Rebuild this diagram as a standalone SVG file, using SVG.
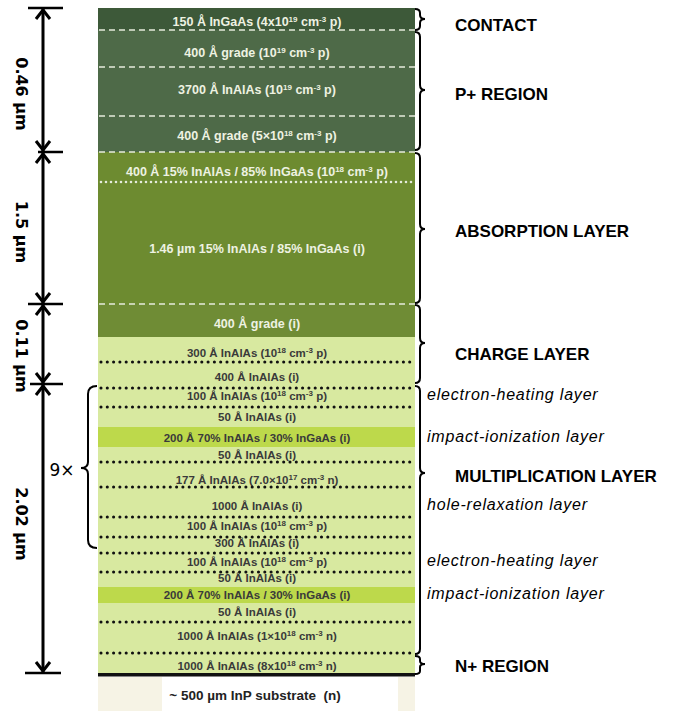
<svg xmlns="http://www.w3.org/2000/svg" width="678" height="711" viewBox="0 0 678 711">
<style>
.dk{font-family:'Liberation Sans',Arial,sans-serif;font-weight:bold;font-size:12.5px;fill:#eef2e2;text-anchor:middle}
.lt{font-family:'Liberation Sans',Arial,sans-serif;font-weight:bold;font-size:11.5px;fill:#3a3a3a;text-anchor:middle}
.sup{font-size:8px}
.wd{stroke:#e6ecdc;stroke-width:1.5;stroke-dasharray:6 4;fill:none}
.wdot{stroke:#e6ecdc;stroke-width:2.6;stroke-dasharray:0 5;stroke-linecap:round;fill:none}
.bdot{stroke:#111;stroke-width:3.1;stroke-dasharray:0 6.3;stroke-linecap:round;fill:none}
.br{stroke:#000;stroke-width:2;fill:none}
.dim{stroke:#000;stroke-width:3;fill:none}
.tick{stroke:#000;stroke-width:2.5;fill:none}
.ah{stroke:#000;stroke-width:3;fill:none;stroke-linejoin:miter}
.dl{font-family:'DejaVu Sans',Verdana,sans-serif;font-weight:bold;font-size:16px;fill:#000;text-anchor:middle;dominant-baseline:central}
.rl{font-family:'Liberation Sans',Arial,sans-serif;font-weight:bold;font-size:17px;fill:#000}
.il{font-family:'Liberation Sans',Arial,sans-serif;font-style:italic;font-size:16px;letter-spacing:0.8px;fill:#000}
</style>
<rect width="678" height="711" fill="#fff"/>

<g id="contact">
<rect x="98" y="8" width="317" height="22" fill="#3d5939"/>
<text class="dk" x="257" y="26">150 Å InGaAs (4x10<tspan class="sup" dy="-4.5">19</tspan><tspan dy="4.5"> cm</tspan><tspan class="sup" dy="-4.5">-3</tspan><tspan dy="4.5"> p)</tspan></text>
</g>

<g id="p-region">
<rect x="98" y="30" width="317" height="122" fill="#4e6a48"/>
<text class="dk" x="257" y="57">400 Å grade (10<tspan class="sup" dy="-4.5">19</tspan><tspan dy="4.5"> cm</tspan><tspan class="sup" dy="-4.5">-3</tspan><tspan dy="4.5"> p)</tspan></text>
<text class="dk" x="257" y="94">3700 Å InAlAs (10<tspan class="sup" dy="-4.5">19</tspan><tspan dy="4.5"> cm</tspan><tspan class="sup" dy="-4.5">-3</tspan><tspan dy="4.5"> p)</tspan></text>
<text class="dk" x="257" y="140">400 Å grade (5×10<tspan class="sup" dy="-4.5">18</tspan><tspan dy="4.5"> cm</tspan><tspan class="sup" dy="-4.5">-3</tspan><tspan dy="4.5"> p)</tspan></text>
</g>

<g id="absorption">
<rect x="98" y="152" width="317" height="152" fill="#6d8b30"/>
<text class="dk" x="257" y="176">400 Å 15% InAlAs / 85% InGaAs (10<tspan class="sup" dy="-4.5">18</tspan><tspan dy="4.5"> cm</tspan><tspan class="sup" dy="-4.5">-3</tspan><tspan dy="4.5"> p)</tspan></text>
<text class="dk" x="257" y="253">1.46 µm 15% InAlAs / 85% InGaAs (i)</text>
</g>

<g id="charge">
<rect x="98" y="304" width="317" height="33" fill="#6f8c35"/>
<rect x="98" y="337" width="317" height="337" fill="#d8e9a0"/>
<text class="dk" x="257" y="328">400 Å grade (i)</text>
<text class="lt" x="257" y="357">300 Å InAlAs (10<tspan class="sup" dy="-4">18</tspan><tspan dy="4"> cm</tspan><tspan class="sup" dy="-4">-3</tspan><tspan dy="4"> p)</tspan></text>
<text class="lt" x="257" y="381">400 Å InAlAs (i)</text>
</g>

<g id="multiplication">
<rect x="98" y="427" width="317" height="20" fill="#bdd94b"/>
<rect x="98" y="587" width="317" height="16" fill="#bdd94b"/>
<text class="lt" x="257" y="400">100 Å InAlAs (10<tspan class="sup" dy="-4">18</tspan><tspan dy="4"> cm</tspan><tspan class="sup" dy="-4">-3</tspan><tspan dy="4"> p)</tspan></text>
<text class="lt" x="257" y="421">50 Å InAlAs (i)</text>
<text class="lt" x="257" y="442">200 Å 70% InAlAs / 30% InGaAs (i)</text>
<text class="lt" x="257" y="459">50 Å InAlAs (i)</text>
<text class="lt" x="257" y="484">177 Å InAlAs (7.0×10<tspan class="sup" dy="-4">17</tspan><tspan dy="4"> cm</tspan><tspan class="sup" dy="-4">-3</tspan><tspan dy="4"> n)</tspan></text>
<text class="lt" x="257" y="510">1000 Å InAlAs (i)</text>
<text class="lt" x="257" y="530">100 Å InAlAs (10<tspan class="sup" dy="-4">18</tspan><tspan dy="4"> cm</tspan><tspan class="sup" dy="-4">-3</tspan><tspan dy="4"> p)</tspan></text>
<text class="lt" x="257" y="547">300 Å InAlAs (i)</text>
<text class="lt" x="257" y="566">100 Å InAlAs (10<tspan class="sup" dy="-4">18</tspan><tspan dy="4"> cm</tspan><tspan class="sup" dy="-4">-3</tspan><tspan dy="4"> p)</tspan></text>
<text class="lt" x="257" y="582">50 Å InAlAs (i)</text>
<text class="lt" x="257" y="599">200 Å 70% InAlAs / 30% InGaAs (i)</text>
<text class="lt" x="257" y="616">50 Å InAlAs (i)</text>
<text class="lt" x="257" y="640">1000 Å InAlAs (1×10<tspan class="sup" dy="-4">18</tspan><tspan dy="4"> cm</tspan><tspan class="sup" dy="-4">-3</tspan><tspan dy="4"> n)</tspan></text>
</g>

<g id="n-region">
<text class="lt" x="257" y="670">1000 Å InAlAs (8x10<tspan class="sup" dy="-4">18</tspan><tspan dy="4"> cm</tspan><tspan class="sup" dy="-4">-3</tspan><tspan dy="4"> n)</tspan></text>
</g>

<g id="substrate">
<rect x="98" y="677" width="317" height="34" fill="#f6f3e5"/>
<rect x="162" y="677" width="236" height="34" fill="#ffffff"/>
<rect x="98" y="673" width="317" height="3.5" fill="#111"/>
<text x="255" y="700" font-family="'Liberation Sans',Arial,sans-serif" font-weight="bold" font-size="13.5" fill="#222" text-anchor="middle" xml:space="preserve">~ 500 µm InP substrate  (n)</text>
</g>

<g id="separators">
<line class="wd" x1="99" y1="30" x2="415" y2="30"/>
<line class="wd" x1="99" y1="67" x2="415" y2="67"/>
<line class="wd" x1="99" y1="116" x2="415" y2="116"/>
<line class="wd" x1="99" y1="152" x2="415" y2="152"/>
<line class="wdot" x1="101" y1="182" x2="415" y2="182"/>
<line class="wd" x1="99" y1="304" x2="415" y2="304"/>
<line class="bdot" x1="101" y1="362" x2="415" y2="362"/>
<line class="bdot" x1="101" y1="388" x2="415" y2="388"/>
<line class="bdot" x1="101" y1="407" x2="415" y2="407"/>
<line class="bdot" x1="101" y1="462" x2="415" y2="462"/>
<line class="bdot" x1="101" y1="487" x2="415" y2="487"/>
<line class="bdot" x1="101" y1="517" x2="415" y2="517"/>
<line class="bdot" x1="101" y1="537" x2="415" y2="537"/>
<line class="bdot" x1="101" y1="553" x2="415" y2="553"/>
<line class="bdot" x1="101" y1="572" x2="415" y2="572"/>
<line class="bdot" x1="101" y1="622" x2="415" y2="622"/>
<line class="bdot" x1="101" y1="653" x2="415" y2="653"/>
</g>

<g id="connectors">
<line class="dim" x1="43" y1="9" x2="43" y2="672"/>
<line class="tick" x1="28" y1="8" x2="63" y2="8"/>
<line class="tick" x1="38" y1="152" x2="63" y2="152"/>
<line class="tick" x1="28" y1="304" x2="63" y2="304"/>
<line class="tick" x1="30" y1="384" x2="63" y2="384"/>
<line class="tick" x1="25" y1="673" x2="61" y2="673"/>
<polyline class="ah" points="36,19 43,10 50,19"/>
<polyline class="ah" points="36,141 43,150 50,141"/>
<polyline class="ah" points="36,163 43,154 50,163"/>
<polyline class="ah" points="36,293 43,302 50,293"/>
<polyline class="ah" points="36,315 43,306 50,315"/>
<polyline class="ah" points="36,373 43,382 50,373"/>
<polyline class="ah" points="36,395 43,386 50,395"/>
<polyline class="ah" points="36,662 43,671 50,662"/>
<path class="br" d="M97,386 Q88,386 88,394 L88,462 Q88,468 81,468 Q88,468 88,474 L88,540 Q88,548 97,548"/>
<path class="br" d="M415,9 Q420,9 420,13 L420,15 Q420,19 425,19 Q420,19 420,23 L420,26 Q420,30 415,30"/>
<path class="br" d="M415,32 Q420,32 420,37 L420,85 Q420,90 425,90 Q420,90 420,95 L420,145 Q420,150 415,150"/>
<path class="br" d="M415,153 Q420,153 420,158 L420,224 Q420,229 425,229 Q420,229 420,234 L420,298 Q420,303 415,303"/>
<path class="br" d="M415,305 Q420,305 420,310 L420,338 Q420,343 425,343 Q420,343 420,348 L420,378 Q420,383 415,383"/>
<path class="br" d="M415,386 Q420,386 420,391 L420,468 Q420,473 425,473 Q420,473 420,478 L420,649 Q420,654 415,654"/>
<path class="br" d="M415,656 Q420,656 420,659 L420,661 Q420,664 425,664 Q420,664 420,667 L420,671 Q420,674 415,674"/>
</g>

<g id="dimension-labels">
<text class="dl" transform="translate(21,94) rotate(90)">0.46 µm</text>
<text class="dl" transform="translate(21,232) rotate(90)">1.5 µm</text>
<text class="dl" transform="translate(21,356) rotate(90)">0.11 µm</text>
<text class="dl" transform="translate(21,524) rotate(90)">2.02 µm</text>
<text x="62" y="476" font-family="'DejaVu Sans',Verdana,sans-serif" font-size="17" fill="#000" text-anchor="middle">9×</text>
</g>

<g id="region-labels">
<text class="rl" x="455" y="31">CONTACT</text>
<text class="rl" x="455" y="100">P+ REGION</text>
<text class="rl" x="455" y="237">ABSORPTION LAYER</text>
<text class="rl" x="455" y="360">CHARGE LAYER</text>
<text class="rl" x="455" y="482">MULTIPLICATION LAYER</text>
<text class="rl" x="455" y="672">N+ REGION</text>
<text class="il" x="427" y="400">electron-heating layer</text>
<text class="il" x="427" y="442">impact-ionization layer</text>
<text class="il" x="427" y="510">hole-relaxation layer</text>
<text class="il" x="427" y="566">electron-heating layer</text>
<text class="il" x="427" y="599">impact-ionization layer</text>
</g>
</svg>
